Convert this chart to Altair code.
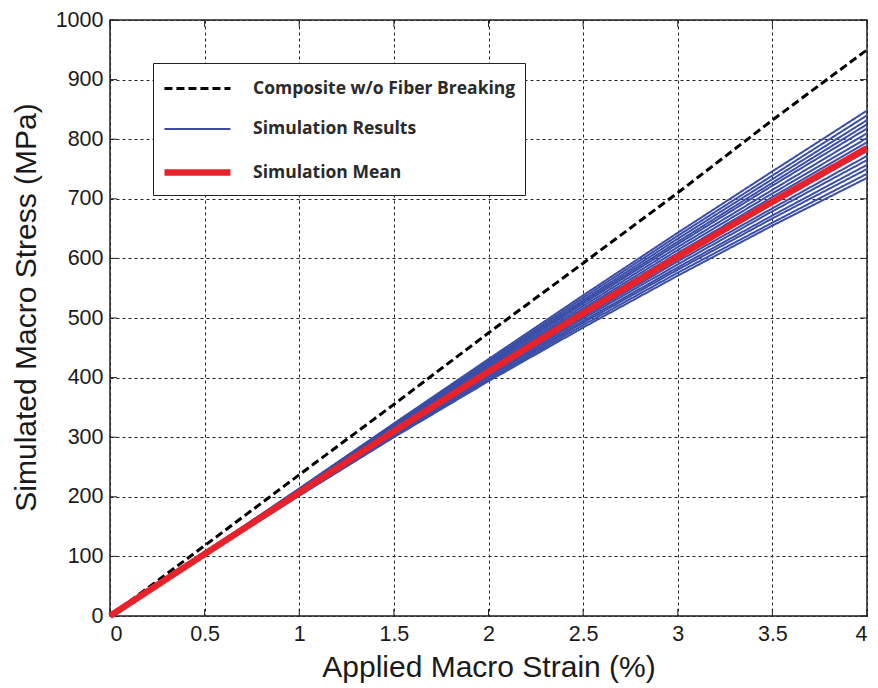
import altair as alt
import pandas as pd

strain = [0, 0.5, 1.0, 1.5, 2.0, 2.5, 3.0, 3.5, 4.0]
no_break = [0, 118, 237, 355, 475, 592, 710, 832, 950]
sim_mean = [0, 104, 207, 310, 410, 508, 603, 695, 785]
sim_runs = [
    [0, 106, 214, 323, 431, 538, 643, 746, 848],
    [0, 106, 213, 321, 428, 534, 638, 739, 840],
    [0, 106, 212, 320, 426, 530, 633, 733, 832],
    [0, 105, 211, 318, 423, 527, 628, 727, 825],
    [0, 105, 211, 317, 421, 524, 624, 722, 818],
    [0, 105, 210, 315, 418, 520, 619, 715, 810],
    [0, 105, 209, 314, 416, 516, 614, 709, 802],
    [0, 104, 208, 312, 413, 513, 609, 703, 795],
    [0, 104, 207, 311, 411, 509, 605, 697, 788],
    [0, 104, 206, 309, 408, 506, 600, 691, 780],
    [0, 104, 206, 307, 406, 502, 595, 684, 772],
    [0, 103, 205, 306, 403, 499, 590, 679, 765],
    [0, 103, 204, 304, 401, 495, 585, 672, 757],
    [0, 103, 203, 303, 398, 492, 581, 667, 750],
    [0, 102, 202, 301, 396, 488, 576, 660, 742],
    [0, 102, 202, 300, 394, 484, 571, 655, 735],
]
x_ticks = [0, 0.5, 1, 1.5, 2, 2.5, 3, 3.5, 4]
y_ticks = [0, 100, 200, 300, 400, 500, 600, 700, 800, 900, 1000]

S1 = "Composite w/o Fiber Breaking"
S2 = "Simulation Results"
S3 = "Simulation Mean"

rows = []
for s, v in zip(strain, no_break):
    rows.append({"strain": s, "stress": v, "series": S1, "run": "nb", "order": 0})
for r, run in enumerate(sim_runs):
    for s, v in zip(strain, run):
        rows.append({"strain": s, "stress": v, "series": S2, "run": f"r{r:02d}", "order": 1})
for s, v in zip(strain, sim_mean):
    rows.append({"strain": s, "stress": v, "series": S3, "run": "zmean", "order": 2})
df = pd.DataFrame(rows)

W, H = 757, 596
xs = alt.Scale(domain=[0, 4], nice=False)
ys = alt.Scale(domain=[0, 1000], nice=False)
dom = [S1, S2, S3]

legend = alt.Legend(
    orient="none", legendX=43, legendY=43, title=None,
    symbolType="M-1.07,0H3.33", symbolSize=900, symbolFillColor="transparent",
    labelFontSize=17.5, labelFontWeight="bold", labelFont="Open Sans",
    labelColor="#2a2a2a", labelOffset=54, rowPadding=16, padding=9,
    strokeColor="#222222", fillColor="white", labelLimit=400,
)

lines = alt.Chart(df).mark_line().encode(
    x=alt.X("strain:Q", scale=xs,
            axis=alt.Axis(values=x_ticks, title="Applied Macro Strain (%)", format="~g")),
    y=alt.Y("stress:Q", scale=ys,
            axis=alt.Axis(values=y_ticks, title="Simulated Macro Stress (MPa)", format="d",
                          titleY=287)),
    color=alt.Color("series:N", scale=alt.Scale(domain=dom, range=["#000000", "#3a4ea8", "#e8222a"]),
                    legend=legend),
    strokeDash=alt.StrokeDash("series:N", scale=alt.Scale(domain=dom, range=[[8, 4], [1, 0], [1, 0]]),
                              legend=legend),
    strokeWidth=alt.StrokeWidth("series:N", scale=alt.Scale(type="ordinal", domain=dom, range=[3, 2, 6.5]),
                                legend=legend),
    detail="run:N",
    order=alt.Order("order:Q"),
)

xt = pd.DataFrame({"v": x_ticks})
yt = pd.DataFrame({"v": y_ticks})
tl = 7
tick_b = alt.Chart(xt).mark_rule(color="#222", strokeWidth=1).encode(
    x=alt.X("v:Q", scale=xs), y=alt.value(H), y2=alt.value(H - tl))
tick_t = alt.Chart(xt).mark_rule(color="#222", strokeWidth=1).encode(
    x=alt.X("v:Q", scale=xs), y=alt.value(0), y2=alt.value(tl))
tick_l = alt.Chart(yt).mark_rule(color="#222", strokeWidth=1).encode(
    y=alt.Y("v:Q", scale=ys), x=alt.value(0), x2=alt.value(tl))
tick_r = alt.Chart(yt).mark_rule(color="#222", strokeWidth=1).encode(
    y=alt.Y("v:Q", scale=ys), x=alt.value(W), x2=alt.value(W - tl))

chart = alt.layer(tick_b, tick_t, tick_l, tick_r, lines).properties(
    width=W, height=H,
    padding={"left": 110, "top": 20, "right": 11, "bottom": 72},
    autosize=alt.AutoSizeParams(type="none"),
).configure_view(stroke="#222222", strokeWidth=1.5).configure_axis(
    grid=True, gridColor="#222222", gridDash=[3, 3], gridWidth=1, gridOpacity=1,
    domain=False, ticks=False,
    labelFont="Liberation Sans", labelFontSize=21.5, labelColor="#1a1a1a",
    titleFont="Liberation Sans", titleFontSize=30, titleFontWeight="normal", titleColor="#1a1a1a",
    labelPadding=7,
).configure_axisX(titlePadding=8).configure_axisY(titlePadding=14)

chart.save("out.html", embed_options={"renderer": "svg", "actions": False})
